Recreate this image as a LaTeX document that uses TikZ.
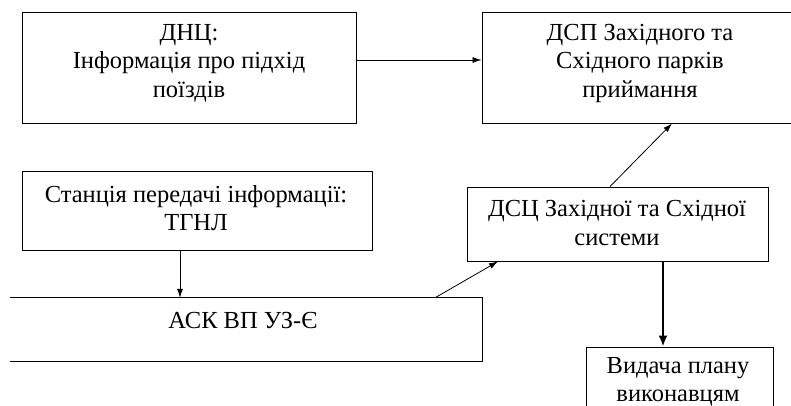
\documentclass[tikz,border=0pt]{standalone}
\usepackage{fontspec}
\setmainfont{Liberation Serif}
\usetikzlibrary{arrows.meta}
\begin{document}
\begin{tikzpicture}[x=1pt,y=-1pt,
  box/.style={draw, line width=0.9pt, inner sep=0pt, minimum width=#1},
  hidebox/.style={inner sep=0pt},
  txt/.style={align=center, font=\fontsize{24.5}{28.5}\selectfont, inner sep=0pt},
  arr/.style={-{Latex[length=9pt,width=6pt]}, line width=0.8pt},
  bigarr/.style={-{Latex[length=11pt,width=9pt]}, line width=2.5pt}]
\useasboundingbox (0,0) rectangle (791,405);
% boxes
\node[box=334pt, minimum height=111pt] (b1) at (189,67.5) {};
\node[box=318pt, minimum height=111pt] (b2) at (641,67.5) {};
\node[box=350pt, minimum height=79pt] (b3) at (197,210.5) {};
\node[hidebox, minimum width=472pt, minimum height=63pt] (b4) at (246,329.5) {};
\draw[line width=0.9pt] (b4.north west) -- (b4.north east) -- (b4.south east) -- (b4.south west);
\node[box=301pt, minimum height=74pt] (b5) at (617.5,224) {};
\node[box=187pt, minimum height=73pt] (b6) at (679.5,383.5) {};
% texts
\node[txt] (t1) at (189,63) {ДНЦ:\\Інформація про підхід\\поїздів};
\node[txt] (t2) at (640,63) {ДСП Західного та\\Східного парків\\приймання};
\node[txt] (t3) at (196,208) {Станція передачі інформації:\\ТГНЛ};
\node[txt] (t4) at (243,320) {АСК ВП УЗ-Є};
\node[txt] (t5) at (617,223) {ДСЦ Західної та Східної\\системи};
\node[txt] (t6) at (678,382) {Видача плану\\виконавцям};
% helper coordinates
\coordinate (y60) at (0,60);
\coordinate (x180) at (180,0);
\coordinate (x435) at (435,0);
\coordinate (x498) at (498,0);
\coordinate (x610) at (610,0);
\coordinate (x672) at (672,0);
\coordinate (x663) at (663,0);
% connectors
\draw[arr] (b1.east |- y60) -- (b2.west |- y60);
\draw[arr] (b3.south -| x180) -- (b4.north -| x180);
\draw[arr] (b4.north -| x435) -- (b5.south -| x498);
\draw[arr] (b5.north -| x610) -- (b2.south -| x672);
\draw[bigarr] (b5.south -| x663) -- (b6.north -| x663);
\end{tikzpicture}
\end{document}
